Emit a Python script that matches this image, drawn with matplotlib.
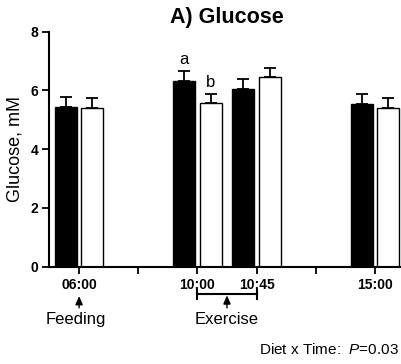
import matplotlib
matplotlib.use("Agg")
import matplotlib.pyplot as plt
import numpy as np

plt.rcParams["font.family"] = ["Liberation Sans", "DejaVu Sans"]
plt.rcParams["mathtext.fontset"] = "custom"
plt.rcParams["mathtext.it"] = "Liberation Sans:italic"
plt.rcParams["mathtext.rm"] = "Liberation Sans"

times = ["06:00", "10:00", "10:45", "15:00"]
slots = [0, 2, 3, 5]          # slot on the categorical x axis
diet_a = [5.45, 6.33, 6.06, 5.55]
diet_a_sem = [0.32, 0.34, 0.33, 0.32]
diet_b = [5.40, 5.58, 6.45, 5.40]
diet_b_sem = [0.33, 0.31, 0.30, 0.33]

W = 0.37
OFF = 0.225

fig = plt.figure(figsize=(4.02, 3.64), dpi=100)
ax = fig.add_axes([49.5 / 402, 97.3 / 364, 355 / 402, 235 / 364])

x = np.array(slots, dtype=float)
ax.bar(x - OFF, diet_a, W, color="black", edgecolor="black", linewidth=1, zorder=2)
ax.bar(x + OFF, diet_b, W, color="white", edgecolor="black", linewidth=1, zorder=2)
for xs, ys, es in [(x - OFF, diet_a, diet_a_sem), (x + OFF, diet_b, diet_b_sem)]:
    ax.errorbar(xs, ys, yerr=[np.zeros(len(es)), es], fmt="none", ecolor="black",
                elinewidth=1.3, capsize=4.5, capthick=1.3, zorder=1)

ax.text(2 - OFF, diet_a[1] + diet_a_sem[1] + 0.12, "a", ha="center", va="bottom", fontsize=12)
ax.text(2 + OFF, diet_b[1] + diet_b_sem[1] + 0.12, "b", ha="center", va="bottom", fontsize=12)

ax.set_xlim(-0.5, 5.5)
ax.set_ylim(0, 8)
ax.set_yticks([0, 2, 4, 6, 8])
ax.set_xticks(range(6))
labels = [""] * 6
for s, t in zip(slots, times):
    labels[s] = t
ax.set_xticklabels(labels, fontweight="bold", fontsize=10)
ax.set_yticklabels([str(v) for v in [0, 2, 4, 6, 8]], fontweight="bold", fontsize=10)
ax.tick_params(direction="out", length=5, width=1.3, pad=3)
ax.spines[["top", "right"]].set_visible(False)
ax.spines[["left", "bottom"]].set_linewidth(1.5)
ax.set_ylabel("Glucose, mM", fontsize=13, labelpad=5)
ax.set_title("A) Glucose", fontweight="bold", fontsize=15.5, pad=6)

# annotations under the axis
trans = ax.get_xaxis_transform()
arrow = dict(arrowstyle="-|>,head_length=0.5,head_width=0.22", color="black", lw=1,
             shrinkA=0, shrinkB=0)
ax.annotate("", xy=(0, -0.125), xytext=(0, -0.175), xycoords=trans, textcoords=trans,
            arrowprops=arrow, annotation_clip=False)
ax.text(-0.05, -0.225, "Feeding", transform=trans, ha="center", va="center", fontsize=12)
ax.plot([2, 3], [-0.118, -0.118], transform=trans, color="black", lw=1.5, clip_on=False)
for xb in [2, 3]:
    ax.plot([xb, xb], [-0.099, -0.137], transform=trans, color="black", lw=1.5, clip_on=False)
ax.annotate("", xy=(2.5, -0.122), xytext=(2.5, -0.175), xycoords=trans, textcoords=trans,
            arrowprops=arrow, annotation_clip=False)
ax.text(2.5, -0.225, "Exercise", transform=trans, ha="center", va="center", fontsize=12)

fig.text(399 / 402, (364 - 350) / 364, "Diet x Time:  $\\it{P}$=0.03", ha="right",
         va="center", fontsize=11)

fig.savefig("out.png", dpi=100)
